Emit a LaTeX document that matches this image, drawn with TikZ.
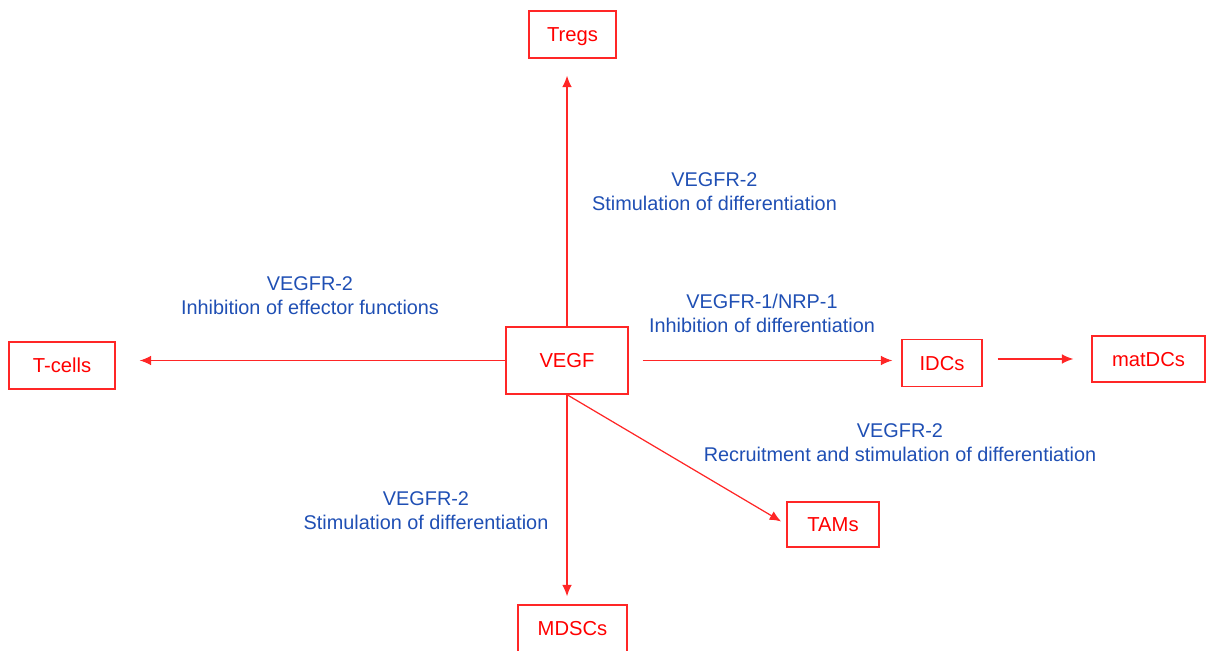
\documentclass[tikz,border=0pt]{standalone}
\usepackage{fontspec}
\setmainfont{Liberation Sans}
\usepackage{tikz}
\usetikzlibrary{arrows.meta,calc}
\definecolor{vegfblue}{HTML}{1F4FB4}

\begin{document}
\begin{tikzpicture}[x=0.02cm, y=-0.02cm,
        cell/.style={draw=red!85, line width=0.8pt, text=red, inner sep=0pt, minimum height=0.94cm, text height=8.2pt, text depth=0pt, font=\fontsize{11.5}{14}\selectfont},
        receptor/.style={text=vegfblue, align=center, font=\fontsize{11.3}{13.6}\selectfont},
        signal/.style={draw=red!85, line width=0.7pt, -{Latex[length=6.5pt,width=5.5pt]}}]
        \useasboundingbox (0,0) rectangle (1206,651);

        % Cells.
        \node[cell, minimum width=2.44cm, minimum height=1.34cm] (vegf) at (567,360.5) {VEGF};
        \node[cell, minimum width=1.74cm] (tregs) at (572.5,34.5) {Tregs};
        \node[cell, minimum width=2.12cm] (tcells) at (62,365.5) {T-cells};
        \node[cell, minimum width=1.60cm] (idcs) at (942,363) {IDCs};
        \node[cell, minimum width=2.26cm, minimum height=0.92cm] (matdcs) at (1148.5,359) {matDCs};
        \node[cell, minimum width=1.84cm, minimum height=0.90cm] (tams) at (833,524.5) {TAMs};
        \node[cell, minimum width=2.18cm] (mdscs) at (572.5,628.5) {MDSCs};

        % Signals.
        \draw[signal, shorten >=0.34cm] (vegf.north) -- (vegf.north |- tregs.south);
        \draw[signal, shorten >=0.48cm] (vegf.west) -- (vegf.west -| tcells.east);
        \draw[signal, shorten <=0.28cm, shorten >=0.18cm] (vegf.east) -- (vegf.east -| idcs.west);
        \draw[signal, shorten <=0.30cm, shorten >=0.36cm] (idcs.east |- matdcs.west) -- (matdcs.west);
        \draw[signal, shorten >=0.12cm] (vegf.south) -- (tams.west);
        \draw[signal, shorten >=0.16cm] (vegf.south) -- (vegf.south |- mdscs.north);

        % Receptors.
        \node[receptor] (rtregs) at (714.5,192) {VEGFR-2\\Stimulation of differentiation};
        \node[receptor] (rtcells) at (310,296) {VEGFR-2\\Inhibition of effector functions};
        \node[receptor] (ridcs) at (762,313) {VEGFR-1/NRP-1\\Inhibition of differentiation};
        \node[receptor] (rtams) at (900,443) {VEGFR-2\\Recruitment and stimulation of differentiation};
        \node[receptor] (rmdscs) at (426,511) {VEGFR-2\\Stimulation of differentiation};

\end{tikzpicture}
\end{document}
